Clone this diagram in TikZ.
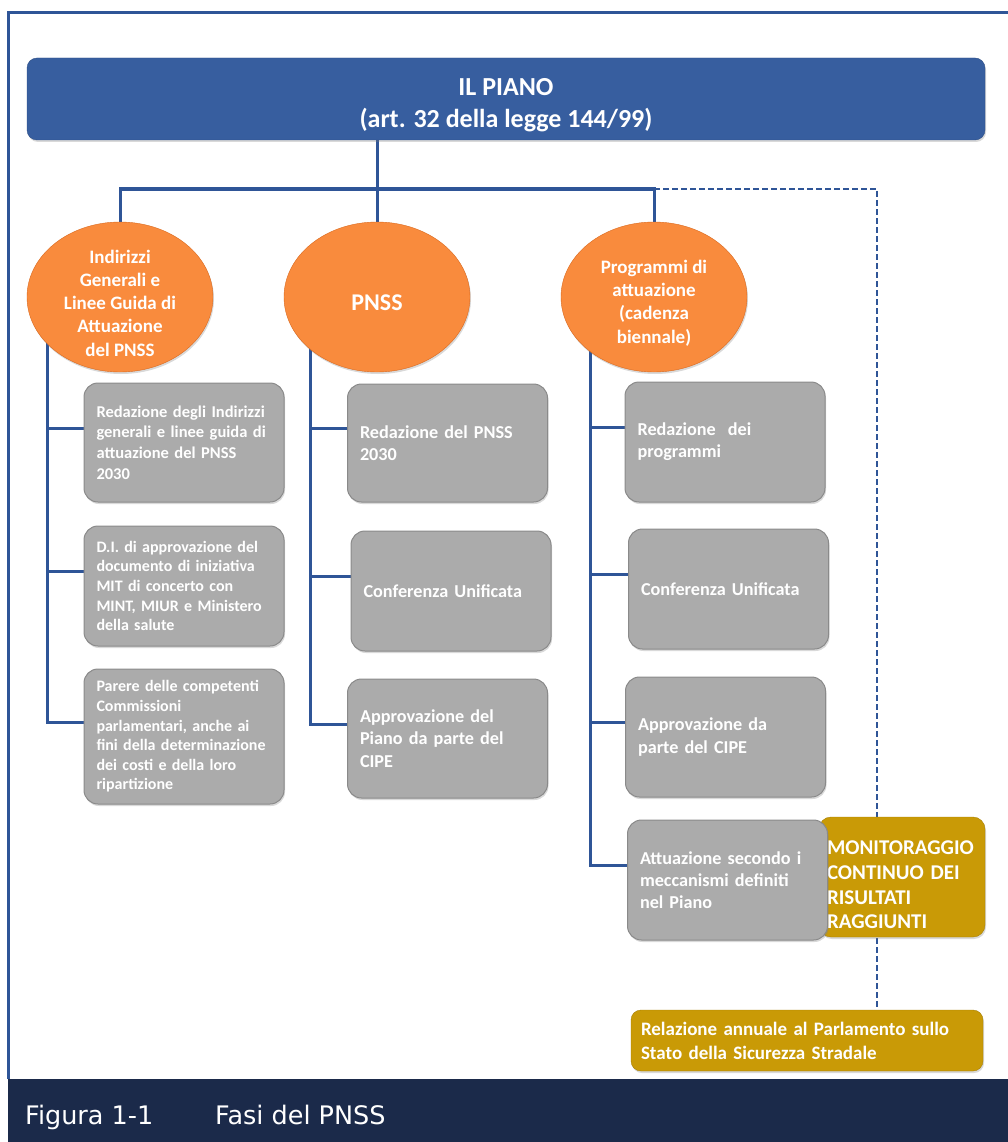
\documentclass[tikz,border=0pt]{standalone}
\usepackage{fontspec}
\setmainfont{Carlito}
\newfontfamily\capfont{DejaVu Sans}
\usepackage{tikz}
\usepackage{xcolor}
\usetikzlibrary{shapes.geometric, positioning, shadows, backgrounds}
\definecolor{pianoblue}{HTML}{375E9F}
\definecolor{pianoline}{HTML}{2D4E85}
\definecolor{phaseorange}{HTML}{F98B3D}
\definecolor{phaseline}{HTML}{D9691F}
\definecolor{taskgray}{HTML}{ABABAB}
\definecolor{taskline}{HTML}{8A8A8A}
\definecolor{monitgold}{HTML}{C99A06}
\definecolor{monitline}{HTML}{A67F05}
\definecolor{linkblue}{HTML}{2F5597}
\definecolor{capbar}{HTML}{1B2A4A}
\tikzset{%
% Specifications for style of nodes:
base/.style = {draw, text=white, drop shadow={opacity=0.3, shadow xshift=1pt, shadow yshift=-2pt}},
banner/.style = {base, rectangle, rounded corners=10pt, fill=pianoblue, draw=pianoline, minimum width=958pt, minimum height=82pt, align=center, font=\fontsize{26}{32}\selectfont\bfseries},
phase/.style = {base, ellipse, fill=phaseorange, draw=phaseline, minimum width=186pt, minimum height=150pt, inner sep=-16pt, align=center, font=\fontsize{19}{23.3}\selectfont\bfseries},
task/.style = {base, rectangle, rounded corners=14pt, fill=taskgray, draw=taskline, line width=1pt, minimum width=200pt, minimum height=120pt, text width=175pt, inner xsep=12.5pt, align=left, font=\fontsize{18.2}{22.3}\selectfont\bfseries},
monitor/.style = {base, rectangle, rounded corners=12pt, fill=monitgold, draw=monitline, minimum width=166pt, minimum height=120pt, text width=150pt, inner xsep=8pt, align=left, font=\fontsize{21}{24.7}\selectfont\bfseries},
report/.style = {base, rectangle, rounded corners=10pt, fill=monitgold, draw=monitline, minimum width=352pt, minimum height=61pt, text width=332pt, inner xsep=10pt, align=left, font=\fontsize{19}{24}\selectfont\bfseries},
caption/.style = {text=white, anchor=base west, inner sep=0pt, font=\capfont\fontsize{25.5}{30}\selectfont},
link/.style = {draw=linkblue, line width=3pt},
dashlink/.style = {link, line width=2.5pt, dash pattern=on 6pt off 3pt},
}

\begin{document}
\begin{tikzpicture}[x=1pt, y=-1pt]
        \useasboundingbox (0,0) rectangle (1008,1142);
        % Frame and caption bar
        \draw [draw=linkblue, line width=3pt] (8,1079) -- (8,13) -- (1008,13);
        \fill [capbar] (8,1079) rectangle (1008,1142);
        \node (fignum) [caption] at (25,1124) {Figura 1-1};
        \node (figtitle) [caption] at (215,1124) {Fasi del PNSS};

        % Specification of nodes (position, etc.)
        \node (title) [banner] at (506,99) {\rule{0pt}{29pt}IL PIANO\\(art. 32 della legge 144/99)};
        \node (ellL) [phase] at (120,297) {\rule{0pt}{25.5pt}Indirizzi\\Generali e\\Linee Guida di\\Attuazione\\del PNSS};
        \node (ellM) [phase, font=\fontsize{24}{28}\selectfont\bfseries] at (377,297) {\rule{0pt}{27pt}PNSS};
        \node (ellR) [phase] at (654,297) {\rule{0pt}{25.5pt}Programmi di\\attuazione\\(cadenza\\biennale)};

        \node (lbox1) [task, minimum height=119pt, font=\fontsize{16.5}{20.7}\selectfont\bfseries] at (184,442.5) {Redazione degli Indirizzi\\generali e linee guida di\\attuazione del PNSS\\2030};
        \node (lbox2) [task, below=23pt of lbox1, font=\fontsize{16}{19.6}\selectfont\bfseries] {D.I. di approvazione del\\documento di iniziativa\\MIT di concerto con\\MINT, MIUR e Ministero\\della salute};
        \node (lbox3) [task, below=22pt of lbox2, minimum height=135pt, font=\fontsize{16}{19.6}\selectfont\bfseries] {Parere delle competenti\\Commissioni\\parlamentari, anche ai\\fini della determinazione\\dei costi e della loro\\ripartizione};

        \node (mbox1) [task, minimum height=118pt] at (447.5,443) {Redazione del PNSS\\2030};
        \node (mbox2) [task, below=28pt of mbox1, xshift=3.5pt] {Conferenza Unificata};
        \node (mbox3) [task, below=27pt of mbox2, xshift=-3.5pt, minimum height=119pt] {Approvazione del\\Piano da parte del\\CIPE};

        \node (rbox1) [task] at (725,442) {Redazione~ dei\\programmi};
        \node (rbox2) [task, below=26pt of rbox1, xshift=3.5pt] {Conferenza Unificata};
        \node (rbox3) [task, below=27pt of rbox2, xshift=-3pt] {Approvazione da\\parte del CIPE};
        \node (monit) [monitor] at (902,877) {\rule{0pt}{29.5pt}MONITORAGGIO\\CONTINUO DEI\\RISULTATI\\RAGGIUNTI};
        \node (attuaz) [task, below=22pt of rbox3, xshift=2pt] {Attuazione secondo i\\meccanismi definiti\\nel Piano};
        \node (relaz) [report] at (807,1040.5) {Relazione annuale al Parlamento sullo\\Stato della Sicurezza Stradale};

        \begin{scope}[on background layer]
        \coordinate (bus) at (377,189);
        \coordinate (dash) at (877,189);
        \coordinate (trunkL) at (47,297);
        \coordinate (trunkM) at (310,297);
        \coordinate (trunkR) at (590,297);

        \draw [link] (bus |- title.south) -- (ellM.north);
        \draw [link] (ellL.north) |- (bus) -| (ellR.north);
        \draw [dashlink] (ellR.north |- bus) -- (dash) -- (dash |- relaz.north);

        \draw [link] (trunkL) |- (lbox3.172);
        \draw [link] (trunkL |- lbox1.172) -- (lbox1.172);
        \draw [link] (trunkL |- lbox2.172) -- (lbox2.172);
        \draw [link] (trunkM) |- (mbox3.172);
        \draw [link] (trunkM |- mbox1.172) -- (mbox1.172);
        \draw [link] (trunkM |- mbox2.172) -- (mbox2.172);
        \draw [link] (trunkR) |- (attuaz.172);
        \draw [link] (trunkR |- rbox1.172) -- (rbox1.172);
        \draw [link] (trunkR |- rbox2.172) -- (rbox2.172);
        \draw [link] (trunkR |- rbox3.172) -- (rbox3.172);
        \end{scope}
    \end{tikzpicture}
\end{document}
